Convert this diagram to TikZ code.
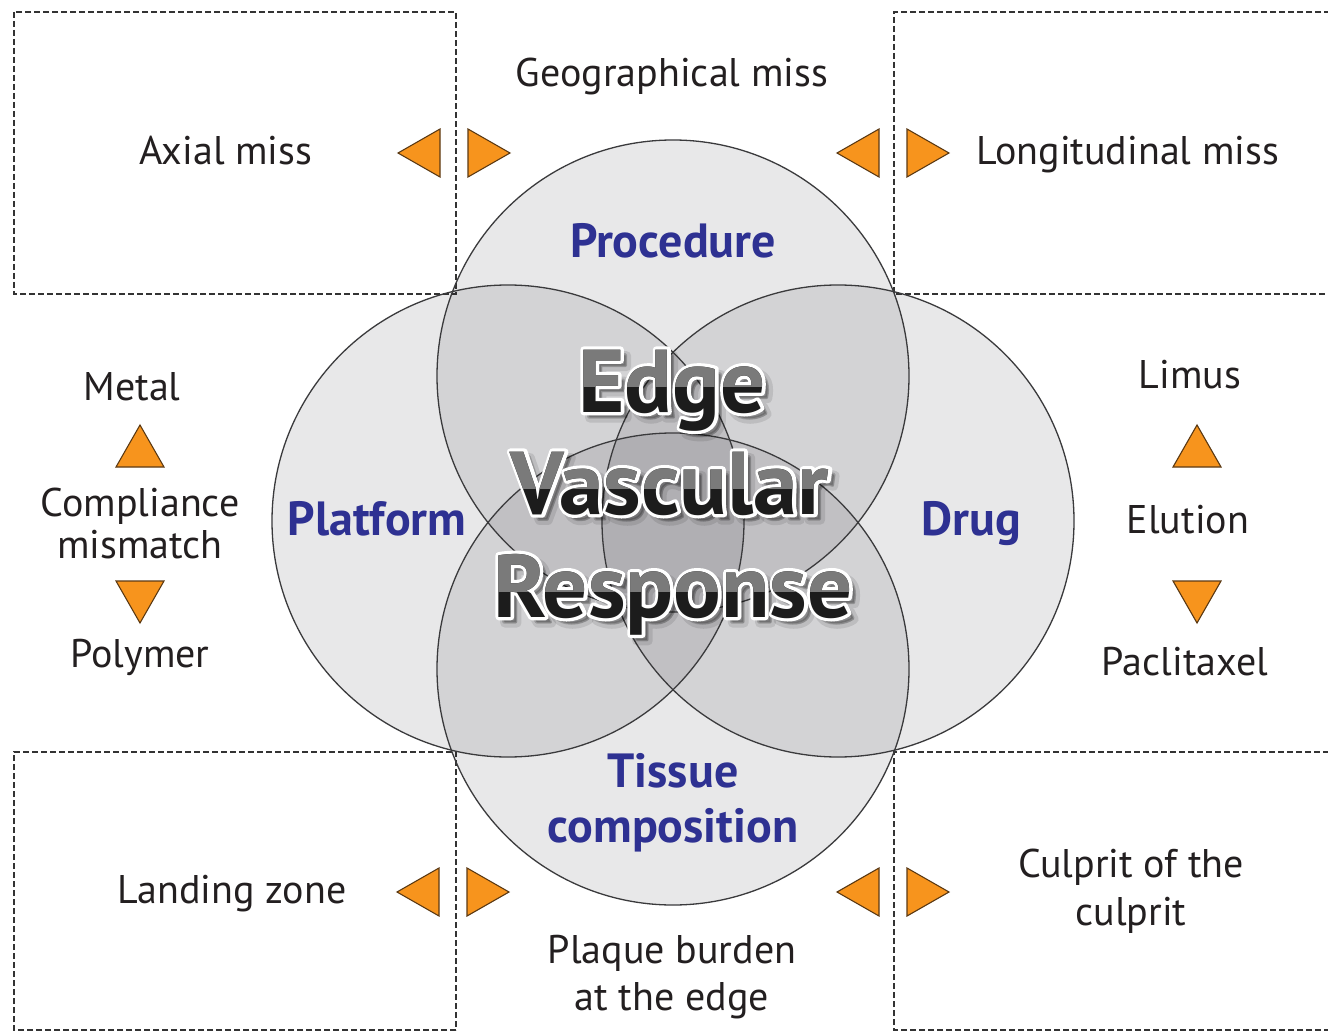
\documentclass[tikz,border=0pt]{standalone}
\usepackage{fontspec}
\setmainfont{PT Sans}
\definecolor{labeltext}{HTML}{231F20}
\definecolor{keyblue}{HTML}{2E3192}
\definecolor{arrowfill}{HTML}{F7941D}
\definecolor{arrowline}{HTML}{5C3A14}
\definecolor{ringline}{HTML}{3A3A3C}
\definecolor{ringfill}{HTML}{23202A}
\definecolor{boxline}{HTML}{333333}
\definecolor{evrdark}{HTML}{1C1C1C}
\definecolor{evrlight}{HTML}{7A7A7A}

% glyph outlines: #1 = render mode (1 stroke, 2 fill+stroke), #2 = pen width
\newcommand\glyphpen[3]{\special{pdf:literal direct #1 Tr #2 w 1 j}#3\special{pdf:literal direct 0 Tr}}

% one word of the central title: soft shadow, light rim, two-tone body
\newcommand\evrword[4]{%
  \node[evr,text=black,opacity=0.10] at (#2+6,#3+6) {\glyphpen{2}{9}{#4}};
  \node[evr,text=black,opacity=0.18] at (#2+5,#3+5) {\glyphpen{2}{3}{#4}};
  \node[evr,text=white] at (#2,#3) {\glyphpen{1}{6.5}{#4}};
  \node[evr,text=evrdark] (#1) at (#2,#3) {#4};
  \begin{scope}
    \clip (#2-300,#3-120) rectangle (#2+300,#3-26);
    \node[evr,text=evrlight] at (#2,#3) {#4};
  \end{scope}
}

\begin{document}
\begin{tikzpicture}[x=1pt,y=-1pt,
  lbl/.style={text=labeltext,font=\fontsize{40}{48}\selectfont,
    align=center,inner sep=0pt,anchor=base},
  key/.style={text=keyblue,font=\bfseries\fontsize{48}{55}\selectfont,
    align=center,inner sep=0pt,anchor=base},
  evr/.style={font=\bfseries\fontsize{89}{89}\selectfont,inner sep=0pt,anchor=base},
  ring/.style={fill=ringfill,fill opacity=0.1,draw=none},
  ringedge/.style={draw=ringline,line width=1.3pt},
  zone/.style={draw=boxline,line width=1.6pt,dash pattern=on 6pt off 3pt},
  tri/.style={fill=arrowfill,draw=arrowline,line width=1.1pt,line join=miter},
]
\useasboundingbox (0,0) rectangle (1328,1032);
\fill[white] (0,0) rectangle (1328,1032);

% corner zones
\draw[zone] (14,12) rectangle (456,294);
\draw[zone] (1330,12) -- (894,12) -- (894,294) -- (1330,294);
\draw[zone] (456,1030) -- (14,1030) -- (14,752) -- (456,752) -- (456,1030);
\draw[zone] (1330,1030) -- (894,1030) -- (894,752) -- (1330,752);

% the four overlapping circles
\coordinate (cTop) at (673,376);
\coordinate (cLeft) at (508,521);
\coordinate (cRight) at (838,521);
\coordinate (cBottom) at (673,669);
\foreach \c in {cTop,cLeft,cRight,cBottom}
  \fill[ring] (\c) circle[radius=236];
\foreach \c in {cTop,cLeft,cRight,cBottom}
  \draw[ringedge] (\c) circle[radius=236];

% arrow heads beside the zone borders
\newcommand\tleft[2]{\filldraw[tri,shift={(#1,#2)}] (-21,0) -- (21,-24) -- (21,24) -- cycle;}
\newcommand\tright[2]{\filldraw[tri,shift={(#1,#2)}] (21,0) -- (-21,-24) -- (-21,24) -- cycle;}
\newcommand\tup[2]{\filldraw[tri,shift={(#1,#2)}] (0,-21) -- (24,21) -- (-24,21) -- cycle;}
\newcommand\tdown[2]{\filldraw[tri,shift={(#1,#2)}] (0,21) -- (24,-21) -- (-24,-21) -- cycle;}
\tleft{419}{153} \tright{489}{153}
\tleft{858}{153} \tright{928}{153}
\tleft{418}{892} \tright{488}{892}
\tleft{858}{892} \tright{928}{892}
\tup{140}{446} \tdown{140}{602}
\tup{1197}{446} \tdown{1197}{602}

% outer labels (multi-line nodes are placed by their last baseline)
\node[lbl] (geo) at (672,87) {Geographical miss};
\node[lbl] (axial) at (226,165) {Axial miss};
\node[lbl] (longi) at (1128,165) {Longitudinal miss};
\node[lbl] (metal) at (132,400) {Metal};
\node[lbl,font=\fontsize{40}{42}\selectfont] (compl) at (140,558) {Compliance\\mismatch};
\node[lbl] (poly) at (140,667) {Polymer};
\node[lbl] (limus) at (1190,388) {Limus};
\node[lbl] (elution) at (1188,533) {Elution};
\node[lbl] (pacli) at (1185,675) {Paclitaxel};
\node[lbl] (landing) at (232,903) {Landing zone};
\node[lbl,font=\fontsize{40}{47}\selectfont] (plaque) at (672,1010) {Plaque burden\\at the edge};
\node[lbl] (culprit) at (1131,925) {Culprit of the\\culprit};

% circle labels
\node[key] (proc) at (673,258) {Procedure};
\node[key] (plat) at (377,535) {Platform};
\node[key] (drug) at (971,535) {Drug};
\node[key] (tissue) at (673,842) {Tissue\\composition};

% central title
\evrword{evrA}{672}{412}{Edge}
\evrword{evrB}{670}{514}{Vascular}
\evrword{evrC}{673}{617}{Response}
\end{tikzpicture}
\end{document}
